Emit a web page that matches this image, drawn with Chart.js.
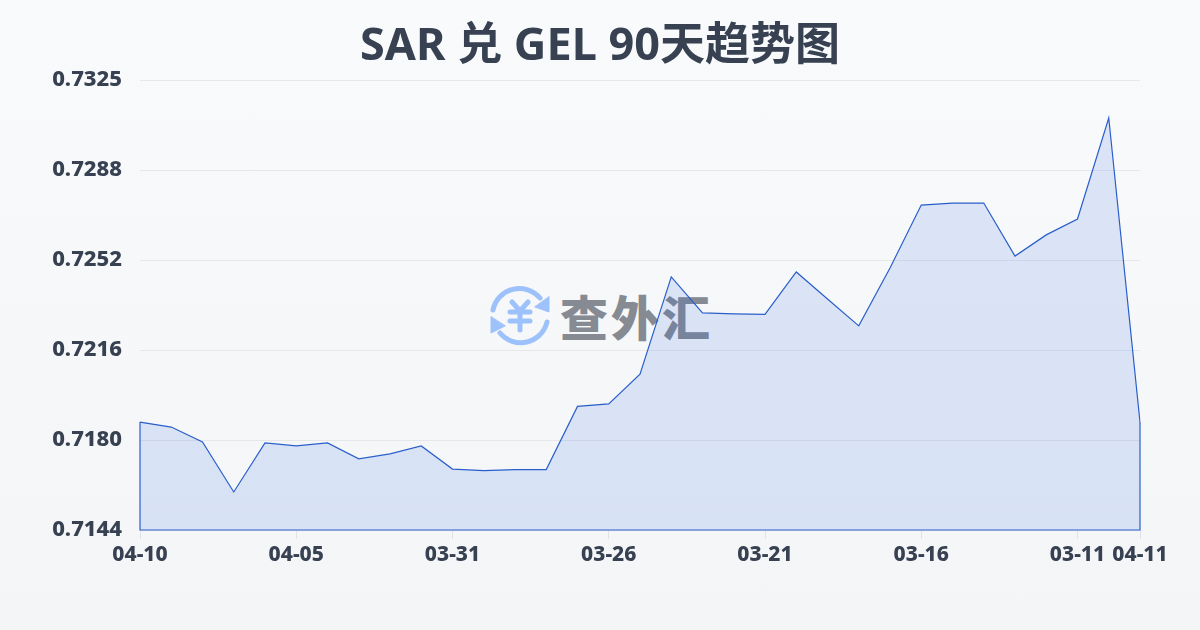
<!DOCTYPE html>
<html lang="zh">
<head>
<meta charset="utf-8">
<title>SAR 兑 GEL 90天趋势图</title>
<script src="https://cdn.jsdelivr.net/npm/chart.js@4/dist/chart.umd.min.js"></script>
<style>
    html, body { margin: 0; padding: 0; }
    body { width: 1200px; height: 630px; overflow: hidden; position: relative;
           background: linear-gradient(180deg, #f8fafb 0%, #f3f5f7 100%); }
    #logo { position: absolute; left: 489px; top: 285px; }
    #logoText { position: absolute; left: 560px; top: 279px; font: 900 48px/72px "Noto Sans CJK SC", sans-serif;
                color: #858a93; letter-spacing: 3px; white-space: nowrap; }
    canvas { position: absolute; left: 0; top: 0; }
</style>
</head>
<body>
<svg id="logo" width="62" height="62" viewBox="0 0 62 62" fill="none" stroke="#9dc1fa" stroke-linecap="round">
    <path d="M4 25 A27 27 0 0 1 51 13" stroke-width="5"/>
    <path d="M58 37 A27 27 0 0 1 11 48" stroke-width="5"/>
    <path d="M60 12 L60 27 L46 22 Z" fill="#9dc1fa" stroke-width="1"/>
    <path d="M2 32 L2 48 L16 41 Z" fill="#9dc1fa" stroke-width="1"/>
    <path d="M23 17 L31 26 L39 17 M21 27 H41 M21 36 H41 M31 26 V45" stroke-width="5"/>
</svg>
<div id="logoText">查外汇</div>
<canvas id="rateChart" width="1200" height="630"></canvas>
<script>
const titleText = 'SAR 兑 GEL 90天趋势图';
const dates = ['04-10','04-09','04-08','04-07','04-06','04-05','04-04','04-03','04-02','04-01','03-31',
    '03-30','03-29','03-28','03-27','03-26','03-25','03-24','03-23','03-22','03-21',
    '03-20','03-19','03-18','03-17','03-16','03-15','03-14','03-13','03-12','03-11','03-10','04-11'];
const rates = [0.71874,0.71854,0.71794,0.71593,0.71790,0.71778,0.71790,0.71726,0.71746,0.71778,0.71685,
    0.71679,0.71683,0.71683,0.71937,0.71947,0.72067,0.72458,0.72313,0.72309,0.72307,
    0.72478,0.72369,0.72261,0.72494,0.72747,0.72755,0.72755,0.72542,0.72627,0.72691,0.73097,0.71874];
const xTickIndexes = [0,5,10,15,20,25,30,32];
const yTickValues = [0.7144,0.71802,0.72164,0.72526,0.72888,0.7325];
const yTickLabels = ['0.7144','0.7180','0.7216','0.7252','0.7288','0.7325'];

// the original outline is a closed path, chart.js only strokes the top
const closeOutline = {
    id: 'closeOutline',
    afterDatasetsDraw(chart) {
        const pts = chart.getDatasetMeta(0).data;
        const bottom = chart.scales.y.bottom;
        const ctx = chart.ctx;
        ctx.save();
        ctx.strokeStyle = '#2a5fcb';
        ctx.lineWidth = 1.2;
        ctx.beginPath();
        ctx.moveTo(pts[0].x, pts[0].y);
        ctx.lineTo(pts[0].x, bottom);
        ctx.lineTo(pts[pts.length - 1].x, bottom);
        ctx.lineTo(pts[pts.length - 1].x, pts[pts.length - 1].y);
        ctx.stroke();
        ctx.restore();
    }
};

new Chart(document.getElementById('rateChart').getContext('2d'), {
    type: 'line',
    data: {
        labels: dates,
        datasets: [{
            data: rates,
            borderColor: '#2a5fcb',
            borderWidth: 1.2,
            backgroundColor: 'rgba(30,90,225,0.13)',
            fill: 'start',
            tension: 0,
            pointRadius: 0
        }]
    },
    plugins: [closeOutline],
    options: {
        responsive: false,
        animation: false,
        plugins: {
            legend: { display: false },
            tooltip: { enabled: false },
            title: {
                display: true,
                text: titleText,
                color: '#374151',
                font: { family: '"Noto Sans", "Noto Sans CJK SC", sans-serif', size: 45, weight: 'bold' },
                padding: { top: 20, bottom: 6 }
            }
        },
        scales: {
            x: {
                grid: { drawOnChartArea: false, color: '#dfe2e7', tickLength: 9 },
                border: { display: false },
                afterBuildTicks(axis) {
                    axis.ticks = xTickIndexes.map(i => ({ value: i }));
                },
                afterFit(axis) {
                    axis.height = 100;
                    axis.paddingLeft = 0;
                    axis.paddingRight = 60;
                },
                ticks: {
                    autoSkip: false,
                    maxRotation: 0,
                    padding: 3,
                    color: '#374151',
                    font: { family: '"Noto Sans", sans-serif', size: 21, weight: 800 }
                }
            },
            y: {
                min: 0.7144,
                max: 0.7325,
                grid: { color: '#e5e7eb', tickLength: 0, lineWidth: 1 },
                border: { display: false },
                afterBuildTicks(axis) {
                    axis.ticks = yTickValues.map(v => ({ value: v }));
                },
                afterFit(axis) { axis.width = 140; },
                ticks: {
                    padding: 18,
                    color: '#374151',
                    font: { family: '"Noto Sans", sans-serif', size: 22, weight: 800 },
                    callback(value, i) { return yTickLabels[i]; }
                }
            }
        }
    }
});
</script>
</body>
</html>
